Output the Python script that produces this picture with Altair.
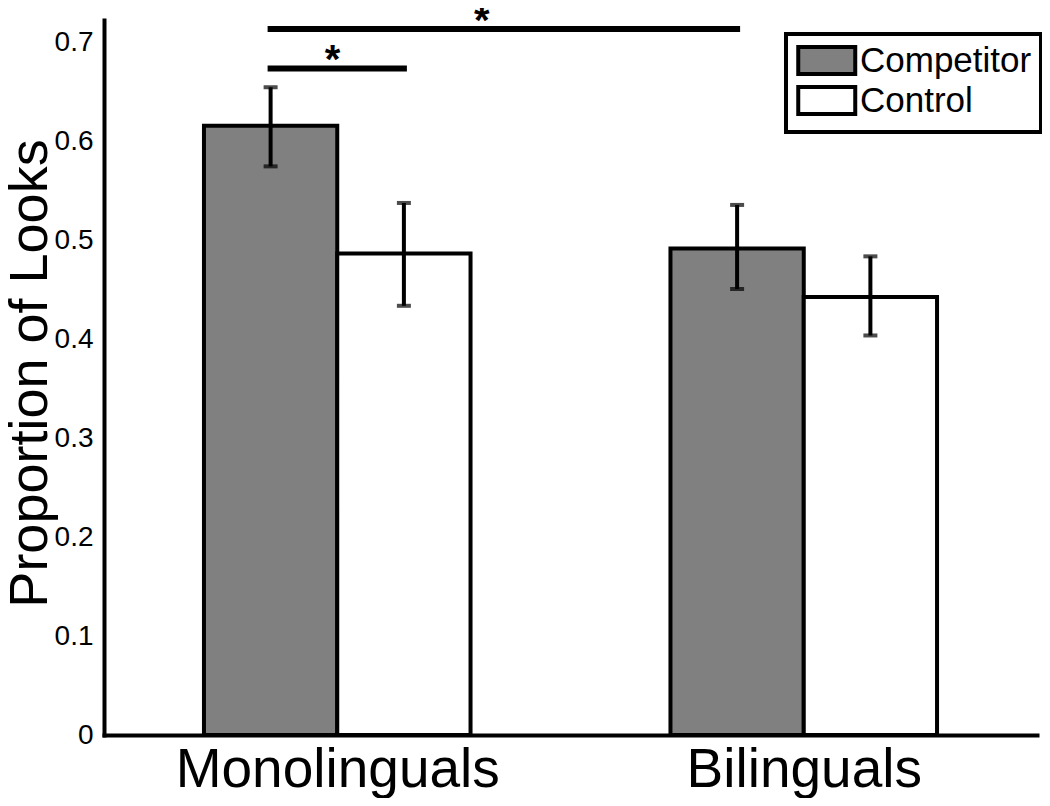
import altair as alt
import pandas as pd

# ---- data ----
groups = ["Monolinguals", "Bilinguals"]
conditions = ["Competitor", "Control"]
means = {"Competitor": [0.616, 0.492], "Control": [0.487, 0.443]}
err_low = {"Competitor": [0.575, 0.451], "Control": [0.434, 0.404]}
err_high = {"Competitor": [0.655, 0.536], "Control": [0.538, 0.484]}
fills = ["#808080", "#ffffff"]
y_ticks = [0, 0.1, 0.2, 0.3, 0.4, 0.5, 0.6, 0.7]
# significance brackets: (group, condition) -> (group, condition)
sig_from = [("Monolinguals", "Competitor"), ("Monolinguals", "Competitor")]
sig_to = [("Monolinguals", "Control"), ("Bilinguals", "Competitor")]
sig_levels = [0.674, 0.714]
star_x = [0.99, 1.31]

# ---- grouped-bar geometry (MATLAB style) ----
n_series = len(conditions)
group_width = min(0.8, n_series / (n_series + 1.5))
bar_w = group_width / n_series

rows = []
center = {}
for gi, g in enumerate(groups):
    for ci, c in enumerate(conditions):
        xc = (gi + 1) + (ci - (n_series - 1) / 2) * bar_w
        center[(g, c)] = xc
        rows.append(dict(group=g, condition=c, xc=xc, x0=xc - bar_w / 2, x1=xc + bar_w / 2,
                         mean=means[c][gi], lo=err_low[c][gi], hi=err_high[c][gi]))
df = pd.DataFrame(rows)
caps = pd.concat([df[["xc"]].assign(v=df["lo"]), df[["xc"]].assign(v=df["hi"])])

sig = pd.DataFrame(dict(
    xa=[center[a] for a in sig_from],
    xb=[center[b] for b in sig_to],
    y=sig_levels,
    sx=star_x,
    star=["*"] * len(sig_levels),
))

FONT = "Liberation Sans"
xscale = alt.Scale(domain=[0.5, len(groups) + 0.5], nice=False, zero=False)
yscale = alt.Scale(domain=[0, 0.723], nice=False)

label_expr = "[" + ",".join("'" + g + "'" for g in groups) + "][datum.value - 1]"

x_axis = alt.Axis(values=list(range(1, len(groups) + 1)), labelExpr=label_expr, title=None,
                  labelFontSize=55, labelBaseline="alphabetic", labelPadding=51,
                  labelFlush=False, labelOverlap=False, labelLimit=2000)
y_axis = alt.Axis(values=y_ticks, labelExpr="datum.value == 0 ? '0' : format(datum.value, '.1f')",
                  title="Proportion of Looks", titleFontSize=54, titleFontWeight="normal",
                  titleX=-58, titleY=353, titleAngle=270, titleBaseline="alphabetic",
                  titleAlign="center", titleLimit=2000, labelFontSize=28, labelPadding=11)

bars = alt.Chart(df).mark_rect(stroke="black", strokeWidth=4).encode(
    x=alt.X("x0:Q", scale=xscale, axis=x_axis),
    x2="x1:Q",
    y=alt.Y("mean:Q", scale=yscale, axis=y_axis),
    y2=alt.datum(0),
    fill=alt.Fill("condition:N", scale=alt.Scale(domain=conditions, range=fills),
                  legend=alt.Legend(orient="none", legendX=682, legendY=14, title=None,
                                    symbolType="M-1,-0.95H3V0.95H-1Z", symbolSize=812,
                                    symbolStrokeColor="black", symbolStrokeWidth=4,
                                    symbolOpacity=1, labelFont=FONT, labelFontSize=35,
                                    labelColor="black", labelOffset=30, padding=9,
                                    labelLimit=2000, rowPadding=-6,
                                    strokeColor="black", fillColor="white")),
)

errs = alt.Chart(df).mark_rule(color="black", strokeWidth=4).encode(
    x=alt.X("xc:Q", scale=xscale), y=alt.Y("lo:Q", scale=yscale), y2="hi:Q")

cap_marks = alt.Chart(caps).mark_tick(color="black", orient="horizontal", thickness=4, size=14).encode(
    x=alt.X("xc:Q", scale=xscale), y=alt.Y("v:Q", scale=yscale))

sig_lines = alt.Chart(sig).mark_rule(color="black", strokeWidth=6, strokeCap="square").encode(
    x=alt.X("xa:Q", scale=xscale), x2="xb:Q", y=alt.Y("y:Q", scale=yscale))

stars = alt.Chart(sig).mark_text(font=FONT, fontSize=40, fontWeight="bold", baseline="alphabetic",
                                 dy=5, color="black").encode(
    x=alt.X("sx:Q", scale=xscale), y=alt.Y("y:Q", scale=yscale), text="star:N")

chart = alt.layer(bars, errs, cap_marks, sig_lines, stars).properties(
    width=933, height=715,
    autosize=alt.AutoSizeParams(type="none"),
    padding={"left": 96, "top": 12, "right": 5, "bottom": 63},
).configure_view(stroke=None).configure_axis(
    domainColor="black", domainWidth=4, domainCap="square", ticks=False, grid=False,
    labelColor="black", labelFont=FONT, titleFont=FONT, titleColor="black",
).configure_legend(strokeWidth=4)

chart.save("out.html", embed_options={"renderer": "svg", "actions": False})
